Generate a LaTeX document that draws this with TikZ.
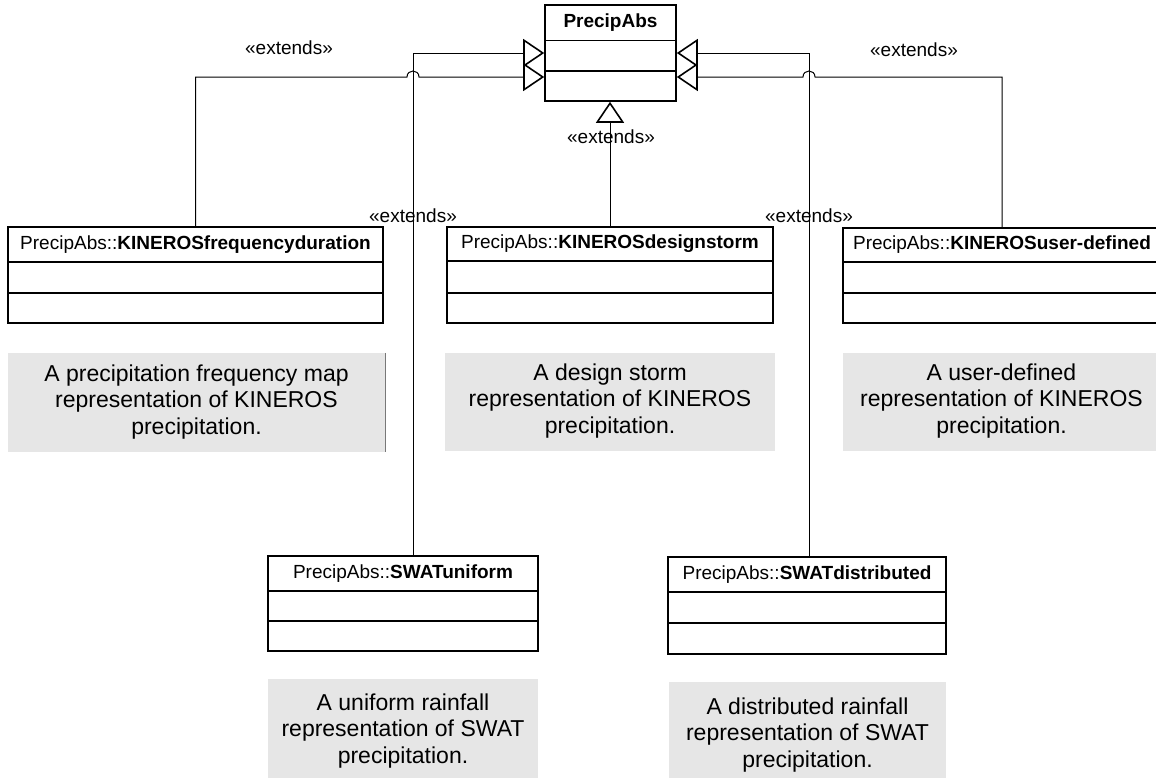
\documentclass[tikz,border=0pt]{standalone}
\usepackage{fontspec}
\setmainfont{Liberation Sans}
\usetikzlibrary{arrows.meta,fit,calc}
\definecolor{notegray}{RGB}{230,230,230}
\definecolor{edgegray}{RGB}{120,120,120}
\tikzset{
  clsbox/.style={draw, line width=1.6pt, inner sep=0pt},
  divider/.style={line width=1.6pt},
  ttl/.style={font=\fontsize{19}{22}\selectfont, inner sep=0pt},
  stereo/.style={font=\fontsize{19}{22}\selectfont, inner sep=0pt},
  notebox/.style={fill=notegray, inner sep=0pt},
  notetext/.style={font=\fontsize{23}{26.5}\selectfont, align=center, inner sep=0pt},
  gen/.style={line width=1pt, -{Triangle[open, length=21pt, width=28pt, line width=1.6pt]}},
}
% name, left, top, right, div1, div2, bottom, title
\newcommand\umlclass[8]{%
  \node[clsbox, fit={(#2,#3) (#4,#7)}] (#1) {};
  \draw[divider] (#2,#5) -- (#4,#5);
  \draw[divider] (#2,#6) -- (#4,#6);
  \node[ttl] (#1-t) at ({(#2+#4)/2},{(#3+#5)/2}) {#8};
}
% name, left, top, right, bottom, text-x, text-y, text
\newcommand\umlnote[8]{%
  \node[notebox, fit={(#2,#3) (#4,#5)}] (#1) {};
  \node[notetext] (#1-t) at (#6,#7) {#8};
}
\begin{document}
\begin{tikzpicture}[x=1pt, y=-1pt]
\useasboundingbox (0,0) rectangle (1156,777);
\clip (0,0) rectangle (1156,777);

% classes
\umlclass{pa}{545}{5}{676}{40.5}{71}{101}{\textbf{PrecipAbs}}
\umlclass{kfd}{8}{227}{383}{262}{293}{323}{PrecipAbs::\textbf{KINEROSfrequencyduration}}
\umlclass{ds}{447}{227}{773}{261}{293}{323}{PrecipAbs::\textbf{KINEROSdesignstorm}}
\umlclass{kud}{843}{228}{1161}{262}{293}{323}{PrecipAbs::\textbf{KINEROSuser-defined}}
\umlclass{swu}{268}{556}{538}{591}{621}{651}{PrecipAbs::\textbf{SWATuniform}}
\umlclass{swd}{668}{557}{946}{592}{623}{654}{PrecipAbs::\textbf{SWATdistributed}}

% notes
\umlnote{n1}{8}{353}{385}{452}{196.5}{402}{A precipitation frequency map\\representation of KINEROS\\precipitation.}
\draw[edgegray, line width=1pt] (n1.north east) -- (n1.south east);
\umlnote{n2}{445}{353}{775}{451}{610}{401}{A design storm\\representation of KINEROS\\precipitation.}
\umlnote{n3}{843}{353}{1160}{451}{1001.5}{401}{A user-defined\\representation of KINEROS\\precipitation.}
\umlnote{n4}{268}{679}{538}{780}{403}{731}{A uniform rainfall\\representation of SWAT\\precipitation.}
\umlnote{n5}{669}{682}{946}{782}{807.5}{735}{A distributed rainfall\\representation of SWAT\\precipitation.}

% helper coordinates
\coordinate (hl) at (413,0);
\coordinate (hr) at (809,0);
\coordinate (pw2) at ($(pa.west)+(0,24)$);
\coordinate (pe2) at ($(pa.east)+(0,24)$);
\coordinate (hopL) at (hl |- pw2);
\coordinate (hopR) at (hr |- pe2);

% connectors
\draw[gen] (hl |- swu.north) |- (pa.west);
\draw[gen] (kfd.north) |- ($(hopL)+(-6,0)$) .. controls ($(hopL)+(-6,-8)$) and ($(hopL)+(6,-8)$) .. ($(hopL)+(6,0)$) -- (pw2);
\draw[gen] (hr |- swd.north) |- (pa.east);
\draw[gen] (kud.north) |- ($(hopR)+(6,0)$) .. controls ($(hopR)+(6,-8)$) and ($(hopR)+(-6,-8)$) .. ($(hopR)+(-6,0)$) -- (pe2);
\draw[gen] (ds.north) -- (ds.north |- pa.south);

% stereotype labels
\node[stereo] (e1) at (289,48) {«extends»};
\node[stereo] (e2) at (914,50) {«extends»};
\node[stereo] (e3) at (611,137) {«extends»};
\node[stereo] (e4) at (413,216) {«extends»};
\node[stereo] (e5) at (809,216) {«extends»};
\end{tikzpicture}
\end{document}
